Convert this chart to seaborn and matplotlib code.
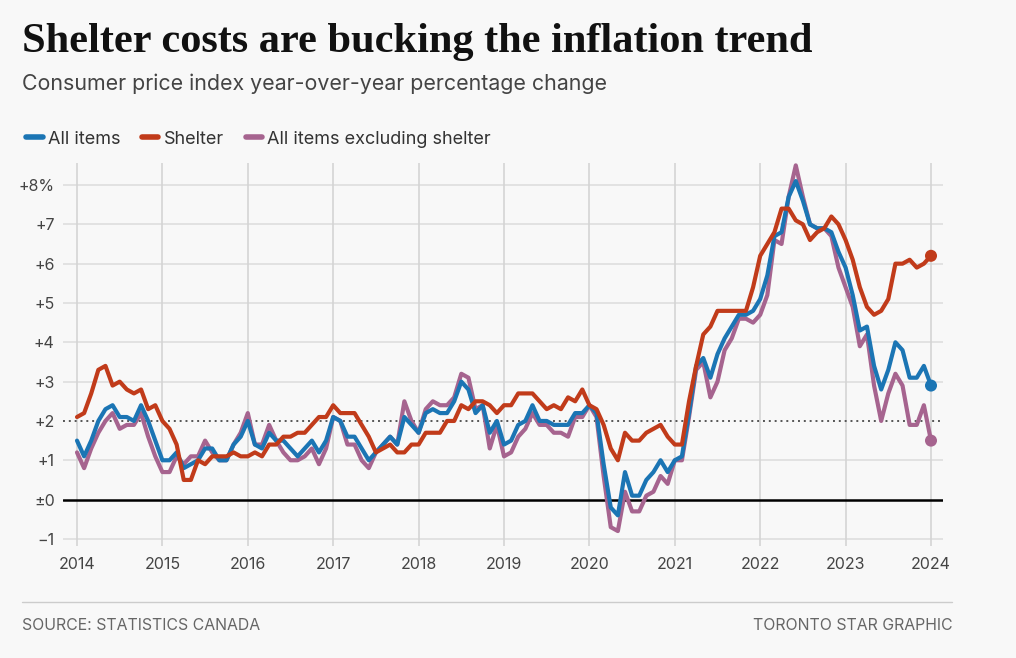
import numpy as np
import pandas as pd
import seaborn as sns
import matplotlib.pyplot as plt
from matplotlib.lines import Line2D

# monthly year-over-year % change, Jan 2014 .. Jan 2024
all_items = [
    1.5, 1.1, 1.5, 2.0, 2.3, 2.4, 2.1, 2.1, 2.0, 2.4, 2.0, 1.5,
    1.0, 1.0, 1.2, 0.8, 0.9, 1.0, 1.3, 1.3, 1.0, 1.0, 1.4, 1.6,
    2.0, 1.4, 1.3, 1.7, 1.5, 1.5, 1.3, 1.1, 1.3, 1.5, 1.2, 1.5,
    2.1, 2.0, 1.6, 1.6, 1.3, 1.0, 1.2, 1.4, 1.6, 1.4, 2.1, 1.9,
    1.7, 2.2, 2.3, 2.2, 2.2, 2.5, 3.0, 2.8, 2.2, 2.4, 1.7, 2.0,
    1.4, 1.5, 1.9, 2.0, 2.4, 2.0, 2.0, 1.9, 1.9, 1.9, 2.2, 2.2,
    2.4, 2.2, 0.9, -0.2, -0.4, 0.7, 0.1, 0.1, 0.5, 0.7, 1.0, 0.7,
    1.0, 1.1, 2.2, 3.4, 3.6, 3.1, 3.7, 4.1, 4.4, 4.7, 4.7, 4.8,
    5.1, 5.7, 6.7, 6.8, 7.7, 8.1, 7.6, 7.0, 6.9, 6.9, 6.8, 6.3,
    5.9, 5.2, 4.3, 4.4, 3.4, 2.8, 3.3, 4.0, 3.8, 3.1, 3.1, 3.4,
    2.9,
]
shelter = [
    2.1, 2.2, 2.7, 3.3, 3.4, 2.9, 3.0, 2.8, 2.7, 2.8, 2.3, 2.4,
    2.0, 1.8, 1.4, 0.5, 0.5, 1.0, 0.9, 1.1, 1.1, 1.1, 1.2, 1.1,
    1.1, 1.2, 1.1, 1.4, 1.4, 1.6, 1.6, 1.7, 1.7, 1.9, 2.1, 2.1,
    2.4, 2.2, 2.2, 2.2, 1.9, 1.6, 1.2, 1.3, 1.4, 1.2, 1.2, 1.4,
    1.4, 1.7, 1.7, 1.7, 2.0, 2.0, 2.4, 2.3, 2.5, 2.5, 2.4, 2.2,
    2.4, 2.4, 2.7, 2.7, 2.7, 2.5, 2.3, 2.4, 2.3, 2.6, 2.5, 2.8,
    2.4, 2.3, 1.9, 1.3, 1.0, 1.7, 1.5, 1.5, 1.7, 1.8, 1.9, 1.6,
    1.4, 1.4, 2.5, 3.4, 4.2, 4.4, 4.8, 4.8, 4.8, 4.8, 4.8, 5.4,
    6.2, 6.5, 6.8, 7.4, 7.4, 7.1, 7.0, 6.6, 6.8, 6.9, 7.2, 7.0,
    6.6, 6.1, 5.4, 4.9, 4.7, 4.8, 5.1, 6.0, 6.0, 6.1, 5.9, 6.0,
    6.2,
]
ex_shelter = [
    1.2, 0.8, 1.3, 1.7, 2.0, 2.2, 1.8, 1.9, 1.9, 2.2, 1.6, 1.1,
    0.7, 0.7, 1.1, 0.9, 1.1, 1.1, 1.5, 1.2, 1.0, 1.0, 1.4, 1.7,
    2.2, 1.4, 1.4, 1.9, 1.5, 1.2, 1.0, 1.0, 1.1, 1.3, 0.9, 1.3,
    2.1, 2.0, 1.4, 1.4, 1.0, 0.8, 1.2, 1.4, 1.6, 1.4, 2.5, 2.0,
    1.7, 2.3, 2.5, 2.4, 2.4, 2.6, 3.2, 3.1, 2.3, 2.4, 1.3, 1.9,
    1.1, 1.2, 1.6, 1.8, 2.2, 1.9, 1.9, 1.7, 1.7, 1.6, 2.1, 2.1,
    2.4, 2.1, 0.6, -0.7, -0.8, 0.2, -0.3, -0.3, 0.1, 0.2, 0.6, 0.4,
    1.0, 1.0, 2.1, 3.3, 3.5, 2.6, 3.0, 3.8, 4.1, 4.6, 4.6, 4.5,
    4.7, 5.2, 6.6, 6.5, 7.7, 8.5, 7.7, 7.0, 6.9, 6.9, 6.7, 5.9,
    5.4, 4.9, 3.9, 4.2, 2.9, 2.0, 2.7, 3.2, 2.9, 1.9, 1.9, 2.4,
    1.5,
]

series_names = ["All items", "Shelter", "All items excluding shelter"]
colors = {"All items": "#1b75b4", "Shelter": "#c13b1a", "All items excluding shelter": "#a6648f"}
year_ticks = list(range(2014, 2025))
y_ticks = [-1, 0, 1, 2, 3, 4, 5, 6, 7, 8]
y_labels = ["\u22121", "\u00b10", "+1", "+2", "+3", "+4", "+5", "+6", "+7", "+8%"]

bg = "#f8f8f8"
months = 2014 + np.arange(len(all_items)) / 12
df = pd.DataFrame({
    "date": np.tile(months, 3),
    "value": all_items + shelter + ex_shelter,
    "series": np.repeat(series_names, len(months)),
})
last = df[df["date"] == months[-1]]

sns.set_theme(style="white")
plt.rcParams["font.family"] = ["Inter", "DejaVu Sans"]

fig = plt.figure(figsize=(10.16, 6.58), dpi=100, facecolor=bg)
ax = fig.add_axes([63 / 1016, 1 - 546 / 658, 880 / 1016, (546 - 163) / 658])
ax.set_facecolor(bg)

# grid
for y in y_ticks:
    if y == 0:
        ax.axhline(0, color="black", lw=1.8, zorder=1)
    elif y == 2:
        ax.axhline(2, color="#555555", lw=1.4, ls=(0, (1, 2)), zorder=1)
    else:
        ax.axhline(y, color="#dedede", lw=1.2, zorder=0)
for yr in year_ticks:
    ax.axvline(yr, color="#d4d4d4", lw=1.2, zorder=0)

draw_order = ["All items excluding shelter", "All items", "Shelter"]
sns.lineplot(data=df, x="date", y="value", hue="series", hue_order=draw_order,
             palette=colors, linewidth=3.0, ax=ax, legend=False, zorder=3)
sns.scatterplot(data=last, x="date", y="value", hue="series", hue_order=draw_order,
                palette=colors, s=75, edgecolor="none", ax=ax, legend=False, zorder=4)

ax.set_xlim(2014 - 14 / 85.4, 2024 + 12 / 85.4)
ax.set_ylim(-1.18, 8.56)
ax.set_xticks(year_ticks)
ax.set_xticklabels([str(y) for y in year_ticks])
ax.set_yticks(y_ticks)
ax.set_yticklabels(y_labels)
ax.tick_params(axis="both", length=0, labelsize=11.5, labelcolor="#444444")
ax.tick_params(axis="y", pad=6)
ax.tick_params(axis="x", pad=8)
ax.set_xlabel("")
ax.set_ylabel("")
sns.despine(ax=ax, left=True, bottom=True)

# titles
fig.text(22 / 1016, 1 - 52 / 658, "Shelter costs are bucking the inflation trend",
         family=["Liberation Serif", "DejaVu Serif"], weight="bold", size=30.5,
         color="#111111", va="baseline")
fig.text(22 / 1016, 1 - 84 / 658, "Consumer price index year-over-year percentage change",
         size=15.4, color="#444444", va="center")

handles = [Line2D([0], [0], color=colors[n], lw=4, solid_capstyle="round") for n in series_names]
fig.legend(handles, series_names, loc="center left", bbox_to_anchor=(10 / 1016, 1 - 139 / 658),
           ncol=3, frameon=False, handlelength=0.9, handletextpad=0.3, columnspacing=1.2,
           prop={"size": 13}, labelcolor="#333333")

# footer
fig.add_artist(Line2D([22 / 1016, 952 / 1016], [1 - 602 / 658, 1 - 602 / 658],
                      color="#cccccc", lw=1))
fig.text(22 / 1016, 1 - 625 / 658, "SOURCE: STATISTICS CANADA", size=11.4, color="#666666", va="center")
fig.text(953 / 1016, 1 - 625 / 658, "TORONTO STAR GRAPHIC", size=11.4, color="#666666",
         va="center", ha="right")

fig.savefig("out.png", dpi=100, facecolor=bg)
